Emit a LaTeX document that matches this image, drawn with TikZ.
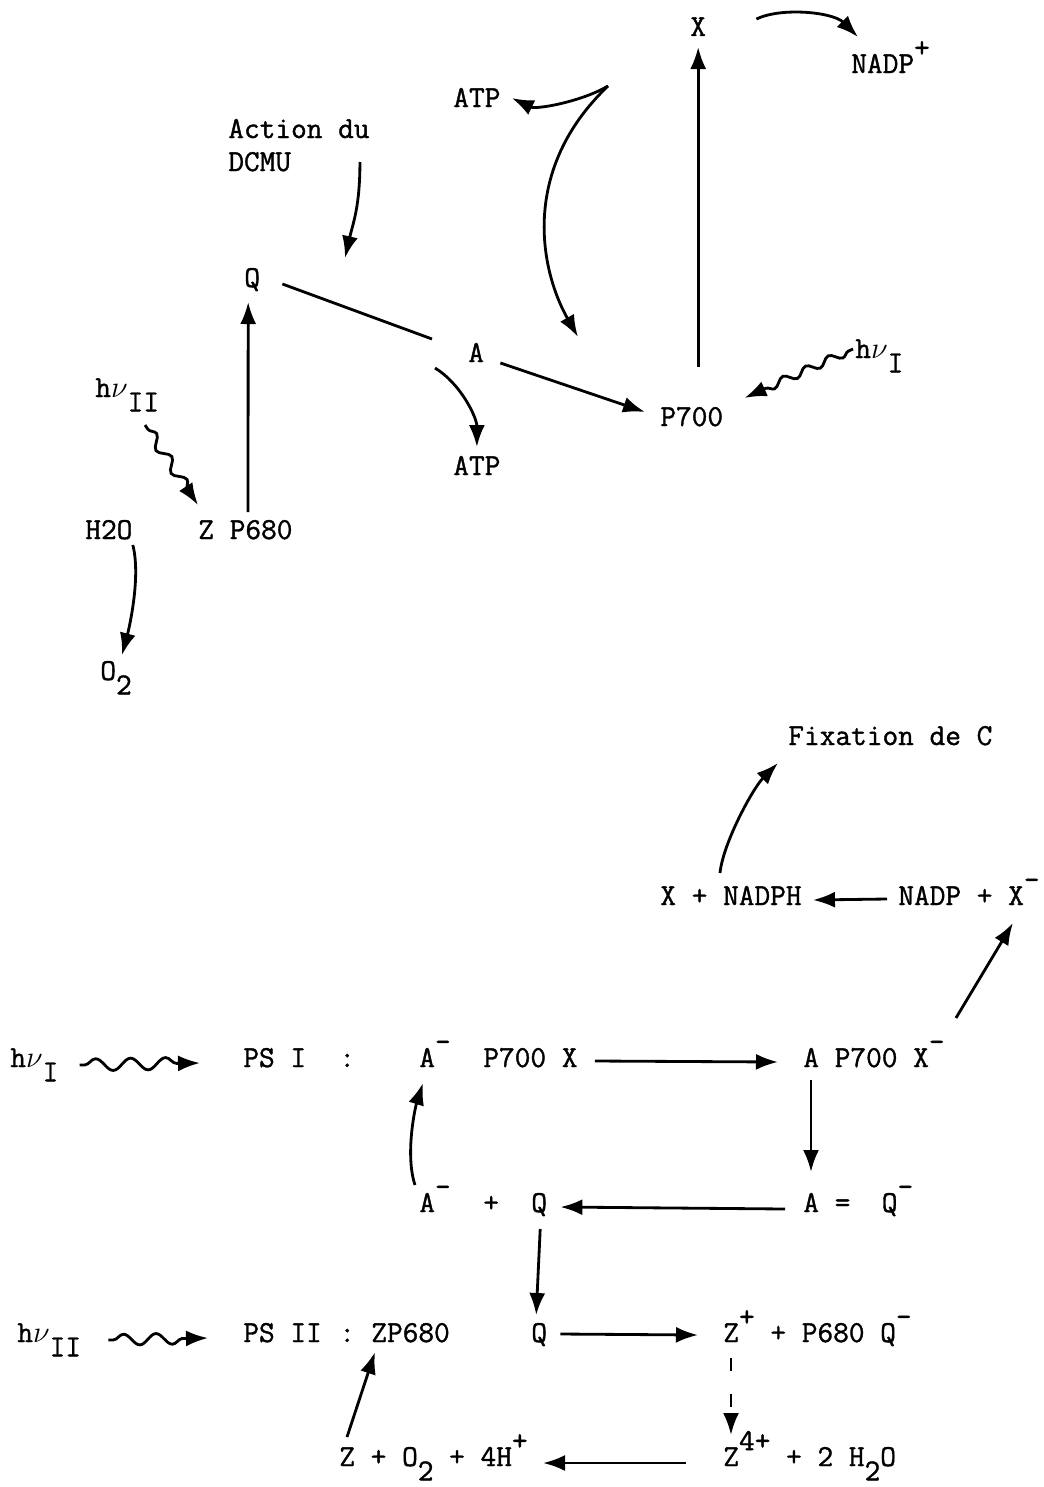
\documentclass[tikz,border=0pt]{standalone}
\usepackage{fontspec}
\newfontfamily\typew{Latin Modern Mono}[FakeBold=1.2]
\usetikzlibrary{calc,arrows.meta,decorations.pathmorphing}
\newcommand{\supr}[1]{\raisebox{0.52em}{#1}}
\newcommand{\subr}[1]{\raisebox{-0.47em}{#1}}

\begin{document}
\begin{tikzpicture}[x=0.2mm,y=-0.2mm,
  lbl/.style={inner sep=0pt,anchor=base west,font=\fontsize{17.34}{20}\selectfont\typew},
  arr/.style={line width=1.6pt,-{Latex[length=4.4mm,width=3.2mm]}},
  ln/.style={line width=1.6pt},
  wavy/.style={arr,decorate,decoration={snake,amplitude=1mm,segment length=6mm,pre length=1mm,post length=3mm}}]
  \useasboundingbox (0,0) rectangle (1043,1487);

  % upper scheme
  \node[lbl] (x) at (690,36) {X};
  \node[lbl] (nadp) at (851,73) {NADP\supr{+}};
  \node[lbl] (atpa) at (453,107) {ATP};
  \node[lbl] (act) at (228,138) {Action du};
  \node[lbl] (dcmu) at (228,171) {DCMU};
  \node[lbl] (q) at (244,287) {Q};
  \node[lbl] (a) at (468,362) {A};
  \node[lbl] (p700) at (660,426) {P700};
  \node[lbl] (atpb) at (453,475) {ATP};
  \node[lbl] (hvi) at (855,358) {h$\nu$\subr{I}};
  \node[lbl] (hvii) at (95,397) {h$\nu$\subr{II}};
  \node[lbl] (zp) at (198,539) {Z P680};
  \node[lbl] (h2o) at (85,539) {H2O};
  \node[lbl] (o2) at (100,680) {O\subr{2}};
  \coordinate (cusp) at (608,86);
  \coordinate (atpend) at (578,337);
  \coordinate (dcmuend) at (345,258);

  \draw[arr,shorten <=8mm,shorten >=2.2mm] (x.base |- p700.north) -- (x.base);
  \draw[arr] ($(x.base east)+(50,-17)$) .. controls +(25,-12) and +(-25,-25) .. ($(nadp.base west)+(7,-36)$);
  \draw[arr] ($(a.base east)+(16,1)$) -- ($(p700.base west)+(-15,-14)$);
  \draw[ln] ($(q.base east)+(22,-3)$) -- ($(a.base west)+(-36,-23)$);
  \draw[arr] ($(zp.base west)+(50,-27)$) -- ($(q.base)+(-4,15)$);
  \draw[arr] ($(act.base east)+(-10,24)$) .. controls +(0,45) and +(8,-35) .. (dcmuend);
  \draw[arr] ($(a.base west)+(-33,6)$) .. controls +(25,15) and +(0,-30) .. ($(atpb.base)+(0,-28)$);
  \draw[arr] (cusp) .. controls +(-25,15) and +(25,12) .. ($(atpa.base east)+(11,-9)$);
  \draw[arr] (cusp) .. controls +(-88,84) and +(-38,-67) .. (atpend);
  \draw[wavy,decoration={segment length=5mm,amplitude=0.8mm}] ($(hvi.base west)+(-2,-9)$) -- ($(p700.base east)+(21,-28)$);
  \draw[wavy,decoration={segment length=5.5mm}] ($(hvii.base west)+(50,28)$) -- ($(zp.base west)+(0,-34)$);
  \draw[arr] ($(h2o.base east)+(0,6)$) .. controls +(8,30) and +(8,-30) .. ($(o2.base west)+(22,-25)$);

  % lower scheme
  \node[lbl] (fix) at (788,745) {Fixation de C};
  \node[lbl] (xn) at (660,905) {X + NADPH};
  \node[lbl] (nx) at (898,905) {NADP + X\supr{\textendash}};
  \node[lbl] (hvb) at (10,1067) {h$\nu$\subr{I}};
  \node[lbl] (psi) at (243,1067) {PS I};
  \node[lbl] (cola) at (339,1067) {:};
  \node[lbl] (ama) at (419,1067) {A\supr{\textendash}};
  \node[lbl] (px) at (483,1067) {P700 X};
  \node[lbl] (apx) at (803,1067) {A P700 X\supr{\textendash}};
  \node[lbl] (amb) at (419,1212) {A\supr{\textendash}};
  \node[lbl] (plus) at (483,1212) {+};
  \node[lbl] (qa) at (531,1212) {Q};
  \node[lbl] (aq) at (803,1212) {A =~ Q\supr{\textendash}};
  \node[lbl] (hvc) at (17,1342) {h$\nu$\subr{II}};
  \node[lbl] (psii) at (243,1342) {PS II};
  \node[lbl] (colb) at (339,1342) {:};
  \node[lbl] (zpb) at (371,1342) {ZP680};
  \node[lbl] (qb) at (531,1342) {Q};
  \node[lbl] (zq) at (723,1342) {Z\supr{+} + P680 Q\supr{\textendash}};
  \node[lbl] (zo) at (339,1466) {Z + O\subr{2} + 4H\supr{+}};
  \node[lbl] (zh) at (723,1466) {Z\supr{4+} + 2 H\subr{2}O};

  \draw[arr] ($(nx.base west)+(-11,-6)$) -- ($(xn.base east)+(11,-5)$);
  \draw[arr] ($(xn.base west)+(60,-32)$) .. controls +(3,-30) and +(-25,25) .. ($(fix.base west)+(-10,18)$);
  \draw[arr] ($(apx.base east)+(11,-49)$) -- ($(nx.base east)+(-27,18)$);
  \draw[wavy,decoration={segment length=7mm,amplitude=1.2mm}] ($(hvb.base east)+(21,-2)$) -- ($(psi.base west)+(-43,-4)$);
  \draw[arr] ($(px.base east)+(17,-6)$) -- ($(apx.base west)+(-25,-5)$);
  \draw[arr] ($(apx.base west)+(8,13)$) -- ($(aq.base west)+(8,-40)$);
  \draw[arr] ($(aq.base west)+(-18,-3)$) -- ($(qa.base east)+(13,-5)$);
  \draw[arr] ($(amb.base west)+(-4,-27)$) .. controls +(-10,-30) and +(-8,25) .. ($(ama.base west)+(4,16)$);
  \draw[arr] ($(qa.base)+(1,17)$) -- ($(qb.base)+(-3,-27)$);
  \draw[arr] ($(qb.base east)+(13,-8)$) -- ($(zq.base west)+(-25,-7)$);
  \draw[wavy,decoration={segment length=6.5mm,amplitude=1.1mm}] ($(hvc.base east)+(27,-2)$) -- ($(psii.base west)+(-35,-4)$);
  \draw[arr,dash pattern=on 2.6mm off 4.5mm] ($(zq.base west)+(8,16)$) -- ($(zh.base west)+(8,-31)$);
  \draw[arr] ($(zh.base west)+(-37,-3)$) -- ($(zo.base east)+(15,-3)$);
  \draw[arr] ($(zo.base west)+(8,-29)$) -- ($(zpb.base west)+(4,10)$);
\end{tikzpicture}
\end{document}
